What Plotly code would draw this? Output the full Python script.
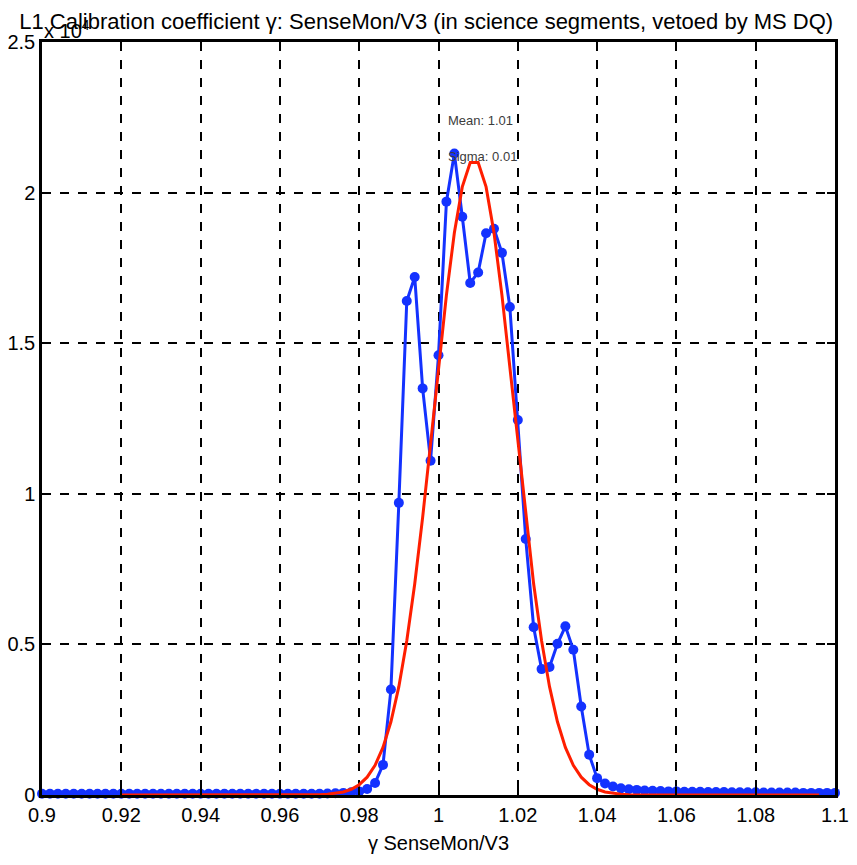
import plotly.graph_objects as go

# gamma bins (0.900 .. 1.100, step 0.002)
gamma = [round(0.9 + 0.002 * i, 3) for i in range(101)]

# histogram counts (x 10^4)
counts = [
    0.004, 0.004, 0.004, 0.004, 0.004, 0.004, 0.004, 0.004, 0.004, 0.004,
    0.004, 0.004, 0.004, 0.004, 0.004, 0.004, 0.004, 0.004, 0.004, 0.004,
    0.004, 0.004, 0.004, 0.004, 0.004, 0.004, 0.004, 0.004, 0.004, 0.004,
    0.004, 0.004, 0.004, 0.004, 0.004, 0.004, 0.005, 0.006, 0.007, 0.009,
    0.012, 0.02, 0.04, 0.10, 0.35, 0.97, 1.64, 1.72, 1.35, 1.11,
    1.46, 1.97, 2.13, 1.92, 1.70, 1.735, 1.865, 1.88, 1.80, 1.62,
    1.245, 0.85, 0.557, 0.418, 0.425, 0.502, 0.56, 0.482, 0.294, 0.134,
    0.056, 0.038, 0.028, 0.022, 0.019, 0.017, 0.015, 0.014, 0.013, 0.012,
    0.012, 0.011, 0.011, 0.011, 0.010, 0.010, 0.010, 0.009, 0.009, 0.009,
    0.009, 0.008, 0.008, 0.008, 0.008, 0.008, 0.007, 0.007, 0.007, 0.007,
    0.007,
]

# gaussian fit curve (x 10^4), read at the same bins from 0.920 to 1.096
fit_gamma = [round(0.92 + 0.002 * i, 3) for i in range(89)]
fit_vals = [
    0, 0, 0, 0, 0, 0, 0, 0, 0, 0,
    0, 0, 0, 0, 0, 0, 0, 0, 0, 0,
    0, 0, 0, 0.0002, 0.0006, 0.0012, 0.0026, 0.0052, 0.0101, 0.019,
    0.0342, 0.0592, 0.0986, 0.1578, 0.243, 0.3596, 0.5119, 0.7003, 0.9216, 1.166,
    1.4186, 1.6595, 1.8667, 2.019, 2.0997, 2.0997, 2.019, 1.8667, 1.6595, 1.4186,
    1.166, 0.9216, 0.7003, 0.5119, 0.3596, 0.243, 0.1578, 0.0986, 0.0592, 0.0342,
    0.019, 0.0101, 0.0052, 0.0026, 0.0012, 0.0006, 0.0002, 0, 0, 0,
    0, 0, 0, 0, 0, 0, 0, 0, 0, 0,
    0, 0, 0, 0, 0, 0, 0, 0, 0,
]

x_ticks = [0.9, 0.92, 0.94, 0.96, 0.98, 1.0, 1.02, 1.04, 1.06, 1.08, 1.1]
x_tick_text = ["0.9", "0.92", "0.94", "0.96", "0.98", "1", "1.02", "1.04", "1.06", "1.08", "1.1"]
y_ticks = [0, 0.5, 1, 1.5, 2, 2.5]
y_tick_text = ["0", "0.5", "1", "1.5", "2", "2.5"]

FONT = "Liberation Sans, Arial"

fig = go.Figure()
fig.add_trace(go.Scatter(
    x=gamma, y=counts, mode="lines+markers",
    line=dict(color="rgb(20,50,255)", width=3),
    marker=dict(color="rgb(20,50,255)", size=10, symbol="circle"),
    cliponaxis=False, showlegend=False,
))
fig.add_trace(go.Scatter(
    x=fit_gamma, y=fit_vals, mode="lines",
    line=dict(color="rgb(255,30,0)", width=3),
    cliponaxis=False, showlegend=False,
))

axis_common = dict(
    showline=True, linecolor="black", linewidth=2.5, mirror="ticks",
    ticks="inside", ticklen=8, tickwidth=2, tickcolor="black",
    showgrid=True, gridcolor="black", gridwidth=1.5, griddash="dash",
    zeroline=False, automargin=False,
    tickfont=dict(family=FONT, size=20, color="black"),
)

fig.update_xaxes(
    range=[0.9, 1.1], tickvals=x_ticks, ticktext=x_tick_text,
    title=dict(text="γ SenseMon/V3", font=dict(family=FONT, size=20, color="black"), standoff=12),
    **axis_common,
)
fig.update_yaxes(
    range=[0, 2.5], tickvals=y_ticks, ticktext=y_tick_text,
    **axis_common,
)

fig.update_layout(
    width=857, height=865,
    margin=dict(l=34, r=30, t=34, b=78, autoexpand=False),
    paper_bgcolor="white", plot_bgcolor="white",
    title=dict(
        text="L1 Calibration coefficient γ: SenseMon/V3 (in science segments, vetoed by MS DQ)",
        font=dict(family=FONT, size=22, color="black"),
        x=0.488, xanchor="center", xref="container", y=0.985, yanchor="middle",
    ),
    annotations=[
        dict(text="x 10<sup>4</sup>", xref="paper", yref="paper", x=0.0, y=1.0,
             xanchor="left", yanchor="bottom", showarrow=False, yshift=-2,
             font=dict(family=FONT, size=20, color="black")),
        dict(text="Mean: 1.01", xref="x", yref="y", x=1.002, y=2.24,
             xanchor="left", yanchor="middle", showarrow=False,
             font=dict(family=FONT, size=13, color="rgb(60,60,60)")),
        dict(text="Sigma: 0.01", xref="x", yref="y", x=1.002, y=2.12,
             xanchor="left", yanchor="middle", showarrow=False,
             font=dict(family=FONT, size=13, color="rgb(60,60,60)")),
    ],
)

fig.write_html("out.html")
